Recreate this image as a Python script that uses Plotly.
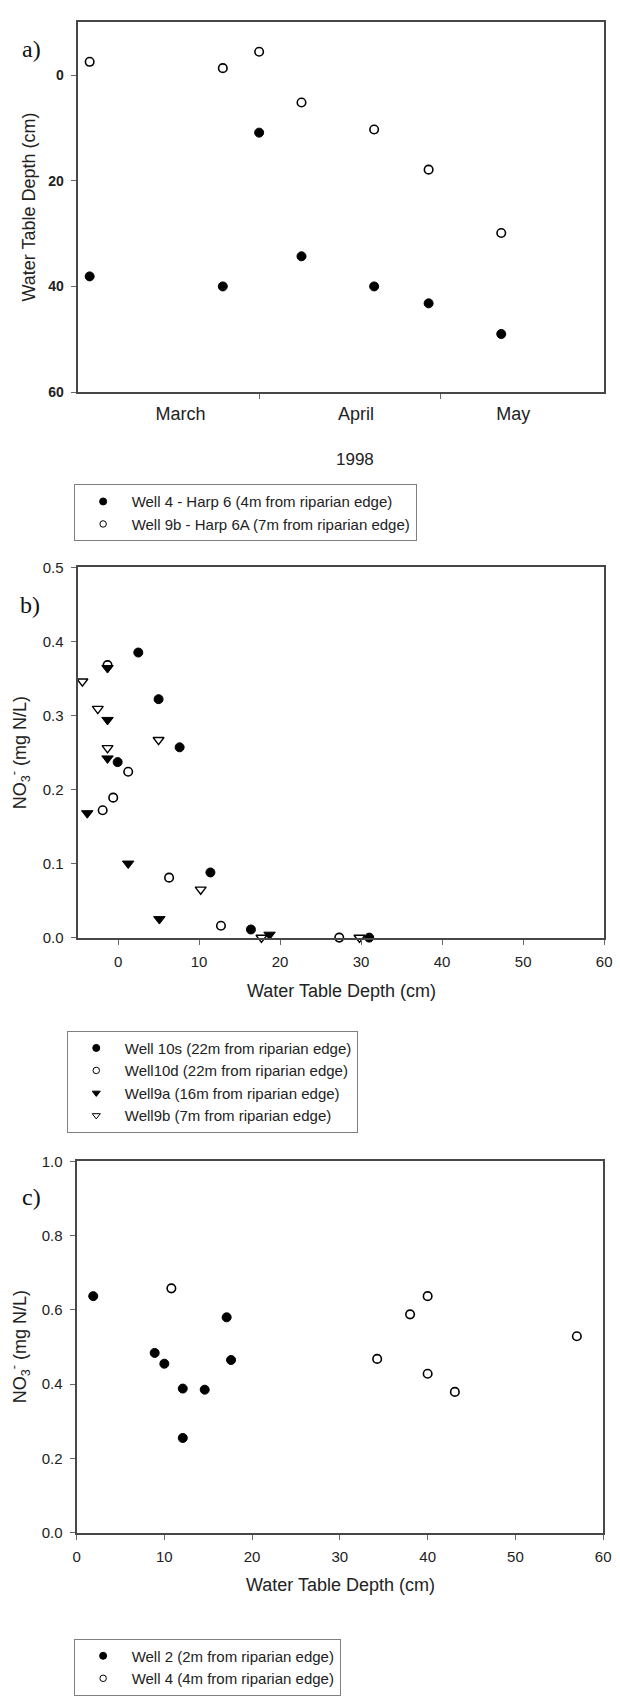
import plotly.graph_objects as go

W, H = 620, 1701


def px(x):
    return x / W


def py(y):
    return 1 - y / H


# ---------------- data ----------------
# Panel a: water table depth over time (1998)
dates_a = ["1998-03-04", "1998-03-26", "1998-04-01", "1998-04-08",
           "1998-04-20", "1998-04-29", "1998-05-11"]
depth_well4 = [38.1, 40.0, 10.9, 34.3, 40.0, 43.2, 49.0]
depth_well9b = [-2.5, -1.3, -4.4, 5.2, 10.3, 17.9, 29.9]
month_labels = ["March", "April", "May"]
month_label_dates = ["1998-03-19", "1998-04-17", "1998-05-13"]
month_boundaries = ["1998-04-01", "1998-05-01"]

# Panel b: NO3 vs water table depth
w10s_x = [-0.05, 2.5, 5.0, 7.6, 11.4, 16.4, 31.0]
w10s_y = [0.237, 0.385, 0.322, 0.257, 0.088, 0.011, 0.0]
w10d_x = [-1.3, 1.25, -0.6, -1.9, 6.3, 12.7, 27.3]
w10d_y = [0.368, 0.224, 0.189, 0.172, 0.081, 0.016, 0.0]
w9a_x = [-1.3, -1.3, -1.3, -3.8, 1.25, 5.1, 18.7]
w9a_y = [0.364, 0.294, 0.242, 0.168, 0.100, 0.025, 0.004]
w9b_x = [-4.4, -2.5, -1.3, 5.0, 10.2, 17.7, 29.8]
w9b_y = [0.346, 0.309, 0.256, 0.267, 0.065, 0.0, 0.0]

# Panel c: NO3 vs water table depth
w2_x = [1.9, 8.9, 10.0, 12.1, 14.6, 12.1, 17.1, 17.6]
w2_y = [0.637, 0.484, 0.455, 0.388, 0.385, 0.255, 0.580, 0.465]
w4_x = [10.8, 34.25, 38.0, 40.0, 40.0, 43.1, 57.0]
w4_y = [0.658, 0.468, 0.588, 0.637, 0.428, 0.379, 0.529]

# ---------------- styles ----------------
FONT = "Liberation Sans, Arial, sans-serif"
SERIF = "Liberation Serif, Times New Roman, serif"
LINE = "#474747"
TICK = "#666666"

filled_circle = dict(symbol="circle", size=9, color="black", line=dict(color="black", width=1))
open_circle = dict(symbol="circle", size=8.5, color="white", line=dict(color="black", width=1.6))
filled_tri = dict(symbol="triangle-down", size=10, color="black", line=dict(color="black", width=1))
open_tri = dict(symbol="triangle-down", size=9.5, color="white", line=dict(color="black", width=1.4))

leg_filled_circle = dict(symbol="circle", size=7, color="black", line=dict(color="black", width=1))
leg_open_circle = dict(symbol="circle", size=6.5, color="white", line=dict(color="black", width=1))
leg_filled_tri = dict(symbol="triangle-down", size=7, color="black", line=dict(color="black", width=1))
leg_open_tri = dict(symbol="triangle-down", size=7, color="white", line=dict(color="black", width=1))

fig = go.Figure()


def add_series(x, y, marker, leg_marker, name, xa, ya, legend):
    fig.add_trace(go.Scatter(x=x, y=y, mode="markers", marker=marker, xaxis=xa, yaxis=ya,
                             showlegend=False, cliponaxis=False, name=name))
    fig.add_trace(go.Scatter(x=[None], y=[None], mode="markers", marker=leg_marker, xaxis=xa,
                             yaxis=ya, name=name, legend=legend, showlegend=True))


# panel a
add_series(dates_a, depth_well4, filled_circle, leg_filled_circle,
           "Well 4 - Harp 6 (4m from riparian edge)", "x", "y", "legend")
add_series(dates_a, depth_well9b, open_circle, leg_open_circle,
           "Well 9b - Harp 6A (7m from riparian edge)", "x", "y", "legend")

# panel b
add_series(w10s_x, w10s_y, filled_circle, leg_filled_circle,
           "Well 10s (22m from riparian edge)", "x2", "y2", "legend2")
add_series(w10d_x, w10d_y, open_circle, leg_open_circle,
           "Well10d (22m from riparian edge)", "x2", "y2", "legend2")
add_series(w9a_x, w9a_y, filled_tri, leg_filled_tri,
           "Well9a (16m from riparian edge)", "x2", "y2", "legend2")
add_series(w9b_x, w9b_y, open_tri, leg_open_tri,
           "Well9b (7m from riparian edge)", "x2", "y2", "legend2")

# panel c
add_series(w2_x, w2_y, filled_circle, leg_filled_circle,
           "Well 2 (2m from riparian edge)", "x3", "y3", "legend3")
add_series(w4_x, w4_y, open_circle, leg_open_circle,
           "Well 4 (4m from riparian edge)", "x3", "y3", "legend3")

axis_common = dict(showline=True, mirror=True, linecolor=LINE, linewidth=2,
                   showgrid=False, zeroline=False, ticks="outside", ticklen=5,
                   tickcolor=TICK, tickwidth=1)

legend_common = dict(bgcolor="white", bordercolor="#808080", borderwidth=1,
                     font=dict(family=FONT, size=15, color="#222"),
                     xanchor="left", yanchor="top", tracegroupgap=0, itemwidth=47)

fig.update_layout(
    width=W, height=H,
    margin=dict(l=0, r=0, t=0, b=0),
    paper_bgcolor="white", plot_bgcolor="white",
    font=dict(family=FONT, color="#222"),
    xaxis=dict(axis_common, domain=[px(75), px(612)], anchor="y", type="date",
               range=["1998-03-02", "1998-05-28"],
               tickmode="array", tickvals=month_label_dates, ticktext=month_labels, ticks="",
               tickfont=dict(size=18, color="#222"), ticklabelstandoff=4,
               minor=dict(tickmode="array", tickvals=month_boundaries, ticks="outside",
                          ticklen=5, tickcolor=TICK, tickwidth=1, showgrid=False)),
    yaxis=dict(axis_common, domain=[py(387), py(13.3)], anchor="x",
               range=[60, -10], tickmode="array", tickvals=[0, 20, 40, 60],
               tickfont=dict(size=14, color="#222", weight="bold"), ticklabelstandoff=4),
    xaxis2=dict(axis_common, domain=[px(75), px(612)], anchor="y2",
                range=[-5, 60], tickmode="array", tickvals=[0, 10, 20, 30, 40, 50, 60],
                tickfont=dict(size=15, color="#222"), ticklabelstandoff=4),
    yaxis2=dict(axis_common, domain=[py(938), py(564)], anchor="x2",
                range=[0, 0.5], tickmode="array", tickvals=[0, 0.1, 0.2, 0.3, 0.4, 0.5],
                tickformat=".1f", tickfont=dict(size=15, color="#222"), ticklabelstandoff=4),
    xaxis3=dict(axis_common, domain=[px(74), px(611)], anchor="y3",
                range=[0, 60], tickmode="array", tickvals=[0, 10, 20, 30, 40, 50, 60],
                tickfont=dict(size=15, color="#222"), ticklabelstandoff=4),
    yaxis3=dict(axis_common, domain=[py(1539), py(1164)], anchor="x3",
                range=[0, 1.0], tickmode="array", tickvals=[0, 0.2, 0.4, 0.6, 0.8, 1.0],
                tickformat=".1f", tickfont=dict(size=15, color="#222"), ticklabelstandoff=4),
    legend=dict(legend_common, x=px(71), y=py(480)),
    legend2=dict(legend_common, x=px(64), y=py(1032)),
    legend3=dict(legend_common, x=px(71), y=py(1646)),
)

annotations = [
    # panel labels
    dict(text="a)", x=px(28), y=py(40), font=dict(family=SERIF, size=24, color="#111")),
    dict(text="b)", x=px(27), y=py(602), font=dict(family=SERIF, size=24, color="#111")),
    dict(text="c)", x=px(28), y=py(1200), font=dict(family=SERIF, size=24, color="#111")),
    # axis titles
    dict(text="Water Table Depth (cm)", x=px(25), y=py(200), textangle=-90,
         font=dict(family=FONT, size=18, color="#222")),
    dict(text="1998", x=px(358), y=py(455), font=dict(family=FONT, size=17, color="#222")),
    dict(text="NO<sub>3</sub><sup>-</sup> (mg N/L)", x=px(16), y=py(751), textangle=-90,
         font=dict(family=FONT, size=18, color="#222")),
    dict(text="Water Table Depth (cm)", x=px(344), y=py(992),
         font=dict(family=FONT, size=18, color="#222")),
    dict(text="NO<sub>3</sub><sup>-</sup> (mg N/L)", x=px(16), y=py(1351), textangle=-90,
         font=dict(family=FONT, size=18, color="#222")),
    dict(text="Water Table Depth (cm)", x=px(343), y=py(1592),
         font=dict(family=FONT, size=18, color="#222")),
]
for a in annotations:
    a.update(xref="paper", yref="paper", showarrow=False, xanchor="center", yanchor="middle")
fig.update_layout(annotations=annotations)

fig.write_html("out.html")
